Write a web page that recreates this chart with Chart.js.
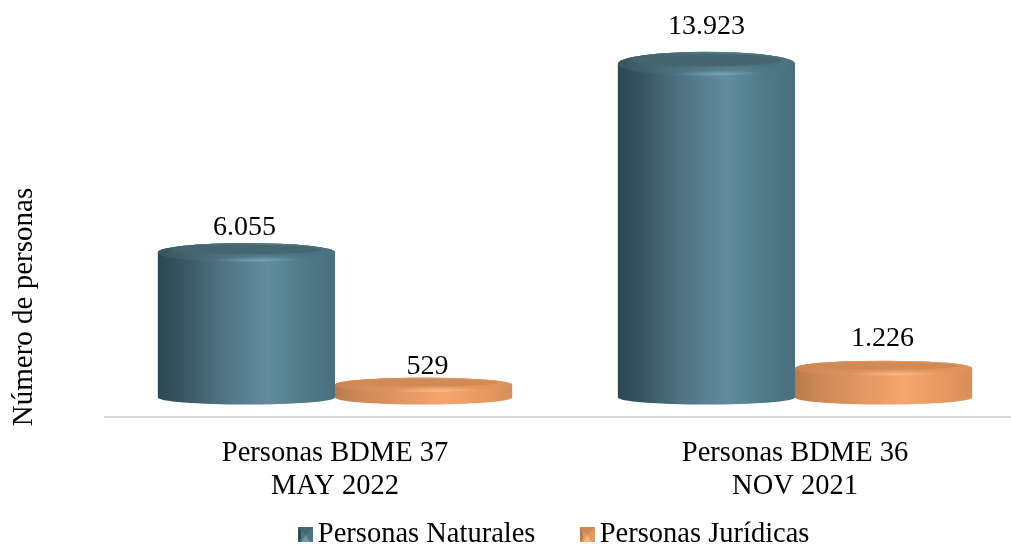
<!DOCTYPE html>
<html><head><meta charset="utf-8">
<script src="https://cdn.jsdelivr.net/npm/chart.js@4/dist/chart.umd.min.js"></script>
<style>html,body{margin:0;padding:0;background:#fff;overflow:hidden;width:1011px;height:544px}#w{width:1025px;height:544px;position:relative}</style>
</head><body><div id="w"><canvas id="c"></canvas></div>
<script>
const categories = [['Personas BDME 37','MAY 2022'],['Personas BDME 36','NOV 2021']];
const naturales = [6055, 13923];
const juridicas = [529, 1226];
const valueLabels = [['6.055','13.923'],['529','1.226']];
const labelLift = [[25,37],[18,29]];
const labelShift = [[-2,0],[4,-1]];
const axisTitle = 'Número de personas';
const FONT = '"Liberation Serif","Times New Roman",serif';
const palettes = [
 {stops:[[0,'#2c4852'],[0.12,'#36535f'],[0.35,'#4d7282'],[0.62,'#628c9d'],[0.85,'#4f7785'],[1,'#48707d']],rim:'#4d7683',hi:'#86b8c8',inner:'#44666f'},
 {stops:[[0,'#b87a4c'],[0.12,'#cb8756'],[0.35,'#e09560'],[0.62,'#f4a76c'],[0.85,'#e6985f'],[1,'#d88d58']],rim:'#e5975f',hi:'#ffc892',inner:'#cf8a55'}
];
function swatch(p){
  const cv=document.createElement('canvas');cv.width=20;cv.height=15;
  const x=cv.getContext('2d');
  x.translate(5,0);
  x.fillStyle=p.rim;x.fillRect(0,0,15,15);
  x.fillStyle=p.inner;x.beginPath();x.moveTo(0,0);x.lineTo(15,0);x.lineTo(7.5,7.5);x.closePath();x.fill();
  x.fillStyle=p.stops[0][1];x.beginPath();x.moveTo(0,0);x.lineTo(0,15);x.lineTo(3,12);x.lineTo(3,3);x.closePath();x.fill();
  x.fillStyle=p.hi;x.beginPath();x.moveTo(3,15);x.lineTo(12,15);x.lineTo(7.5,8);x.closePath();x.globalAlpha=.6;x.fill();
  return cv;
}
const cylinders = {
  id:'cylinders',
  afterDatasetDraw(chart,args){
    const ctx=chart.ctx,p=palettes[args.index];
    chart.getDatasetMeta(args.index).data.forEach((el,i)=>{
      const {x,y,base,width}=el.getProps(['x','y','base','width'],true);
      const h=base-y,rx=width/2,x0=x-rx,x1=x+rx;
      const ryT=7+Math.min(5,h/60),ryB=7;
      const g=ctx.createLinearGradient(x0,0,x1,0);
      p.stops.forEach(s=>g.addColorStop(s[0],s[1]));
      ctx.save();
      ctx.clearRect(x0,y,width,h);
      ctx.fillStyle=g;
      ctx.beginPath();
      ctx.moveTo(x0,y);
      ctx.lineTo(x0,base);
      ctx.ellipse(x,base,rx,ryB,0,Math.PI,0,true);
      ctx.lineTo(x1,y);
      ctx.ellipse(x,y,rx,ryT,0,0,Math.PI,true);
      ctx.closePath();ctx.fill();
      // clip to the top disc and paint the bevel
      ctx.save();
      ctx.beginPath();ctx.ellipse(x,y,rx,ryT,0,0,Math.PI*2);ctx.clip();
      ctx.fillStyle=p.rim;ctx.fillRect(x0,y-ryT,width,ryT*2);
      // body shading carried up the edges
      ctx.fillStyle=g;ctx.globalAlpha=.7;ctx.fillRect(x0,y-ryT,width,ryT*2);ctx.globalAlpha=1;
      // soft inner plate
      ctx.shadowColor=p.inner;ctx.shadowBlur=7;
      ctx.fillStyle=p.inner;
      ctx.beginPath();ctx.ellipse(x,y-ryT*0.3,rx*0.84,ryT*0.5,0,0,Math.PI*2);ctx.fill();
      ctx.shadowBlur=0;
      // highlight at the front of the bevel
      ctx.translate(x+rx*0.16,y+ryT-1);ctx.scale(1,0.09);
      const r=ctx.createRadialGradient(0,0,0,0,0,rx*0.55);
      r.addColorStop(0,p.hi+'aa');r.addColorStop(1,p.hi+'00');
      ctx.fillStyle=r;ctx.fillRect(-rx*2,-rx*2,rx*4,rx*4);
      ctx.restore();
      ctx.restore();
    });
  },
  afterDatasetsDraw(chart){
    const ctx=chart.ctx;
    ctx.save();
    ctx.fillStyle='#000';ctx.textAlign='center';ctx.textBaseline='middle';ctx.font='28px '+FONT;
    chart.data.datasets.forEach((d,di)=>{
      chart.getDatasetMeta(di).data.forEach((el,i)=>{
        ctx.fillText(valueLabels[di][i],el.x+labelShift[di][i],el.y-labelLift[di][i]);
      });
    });
    ctx.translate(24,307);ctx.rotate(-Math.PI/2);
    ctx.font='29px '+FONT;
    ctx.fillText(axisTitle,0,0);
    ctx.restore();
  }
};
const shiftLegend = {
  id:'shiftLegend',
  afterLayout(chart){
    const l=chart.legend; l.left-=9; l.right-=9; l.top+=15; l.bottom+=15;
    chart.scales.x.bottom=chart.height;
  }
};
new Chart(document.getElementById('c'),{
  type:'bar',
  data:{labels:categories,datasets:[
    {label:'Personas Naturales',data:naturales,backgroundColor:palettes[0].rim,pointStyle:swatch(palettes[0]),categoryPercentage:0.77,barPercentage:1},
    {label:'Personas Jurídicas',data:juridicas,backgroundColor:palettes[1].rim,pointStyle:swatch(palettes[1]),categoryPercentage:0.77,barPercentage:1}
  ]},
  plugins:[cylinders,shiftLegend],
  options:{
    responsive:true,maintainAspectRatio:false,animation:false,
    layout:{padding:{left:105,right:0,top:0,bottom:0}},
    plugins:{
      tooltip:{enabled:false},
      legend:{position:'bottom',fullSize:false,
        labels:{font:{family:FONT,size:28.5},color:'#000',usePointStyle:true,boxWidth:1,boxHeight:15,padding:49}}
    },
    scales:{
      x:{grid:{display:false},border:{color:'#d9d9d9',width:2},
         afterFit(s){ s.height=40; },
         ticks:{color:'#000',font:{family:FONT,size:28.5,lineHeight:1.16},padding:12,maxRotation:0}},
      y:{display:false,min:-792,max:16583}
    }
  }
});
</script></body></html>
